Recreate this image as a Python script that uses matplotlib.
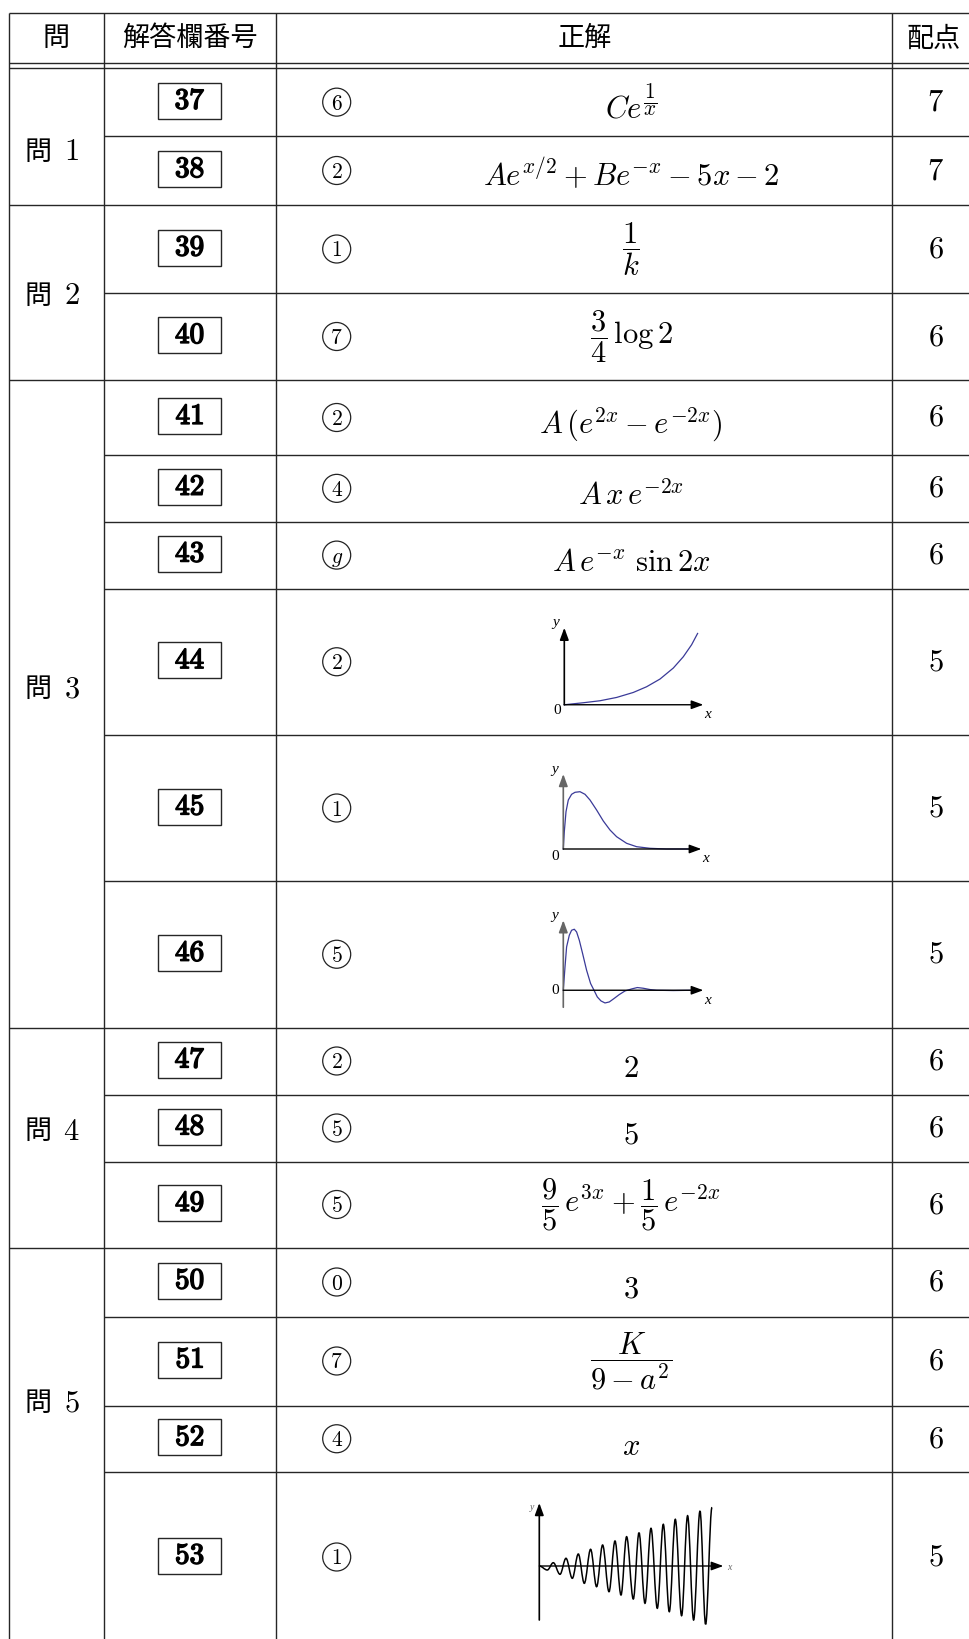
import matplotlib
matplotlib.use('Agg')
import matplotlib.pyplot as plt
import matplotlib.transforms as mtransforms
import matplotlib.patheffects as pe
from matplotlib.patches import Rectangle, Circle, PathPatch
from matplotlib.path import Path

plt.rcParams['mathtext.fontset'] = 'cm'
CJK = 'Noto Sans CJK JP'

# ---- table contents ----
header = ['問', '解答欄番号', '正解', '配点']
group_nos = [1, 2, 3, 4, 5]
group_sizes = [2, 2, 6, 3, 4]
answer_nos = list(range(37, 54))
choices = ['6', '2', '1', '7', '2', '4', 'g', '2', '1', '5',
           '2', '5', '5', '0', '7', '4', '1']
answers = [r'$Ce^{\dfrac{1}{x}}$',
           r'$Ae^{x/2}+Be^{-x}-5x-2$',
           r'$\dfrac{1}{k}$',
           r'$\dfrac{3}{4}\,\log 2$',
           r'$A\,(e^{2x}-e^{-2x})$',
           r'$A\,x\,e^{-2x}$',
           r'$A\,e^{-x}\ \sin 2x$',
           'graph44', 'graph45', 'graph46',
           r'$2$',
           r'$5$',
           r'$\dfrac{9}{5}\,e^{3x}+\dfrac{1}{5}\,e^{-2x}$',
           r'$3$',
           r'$\dfrac{K}{9-a^2}$',
           r'$x$',
           'graph53']
points = [7, 7, 6, 6, 6, 6, 6, 5, 5, 5, 6, 6, 6, 6, 6, 6, 5]

# ---- small graphs (y up, px units) ----
g44_t = [0, 19, 35.7, 52.3, 69, 82.3, 95.7, 109, 119, 127.3, 133.3]
g44_y = [0, 2, 4, 7.3, 12.3, 18, 25.7, 36.7, 48, 60, 71.3]

g45_t = [0, 1, 2.7, 5, 8.3, 11.7, 16.7, 21.7, 26.7, 33.3, 40, 46.7,
         53.3, 63.3, 73.3, 86.7, 103.3, 126.7]
g45_y = [0, 17.3, 37.3, 49, 54.7, 56.7, 57.3, 54.7, 49, 39, 28, 19,
         12.3, 5.7, 2.3, 0.7, 0, 0]

g46_t = [0, 1.7, 3.3, 6, 8.3, 11, 13.3, 16, 19.3, 23.3, 27.3, 30.7, 34,
         37.7, 41.7, 46, 50.7, 56, 61.7, 64, 68.3, 74, 80, 86.7, 93.3, 110, 130]
g46_y = [0, 23.3, 43.3, 55, 60, 61, 58.3, 50, 36.7, 20, 6.7, 0, -6.7,
         -10.7, -12.7, -11.7, -8.3, -4.3, -0.7, 0, 1.3, 2.7, 2, 0.7, 0, -0.3, 0]

# extrema of the growing oscillation
g53_t = [0, 8, 14, 20.7, 26.7, 33, 39, 45, 51.3, 57.3, 63.3, 69.7, 75.7,
         81.7, 87.3, 94, 99.7, 105.7, 111.7, 118, 124, 130, 136, 142.3,
         148.3, 154.3, 160.7, 166.3, 172.7]
g53_y = [0, -4, 3.3, -8.3, 7.7, -12.3, 12, -17.3, 16.7, -20.7, 21, -25.7,
         25, -29, 29.3, -33, 33.3, -37.3, 37.7, -42.3, 41.7, -45.7, 46.7,
         -49.7, 50.3, -54, 55, -58.3, 58.7]

# ---- layout (pixels) ----
W, H = 970, 1639
col_x = [8.7, 104.3, 276.3, 892.3]
top_y, head_y1, head_y2 = 12.5, 63.3, 68.3
row_edges = [68.3, 136, 205, 293, 380, 455, 521.7, 588.5, 735, 881,
             1027.5, 1094.5, 1161.5, 1247.5, 1316.5, 1405.5, 1472, 1642]
group_label_y = [152, 296, 689, 1131, 1403]
LC = '#262626'
LW = 1.0
MATH = 22

fig = plt.figure(figsize=(W / 100, H / 100), dpi=100)
ax = fig.add_axes([0, 0, 1, 1])
ax.set_xlim(0, W)
ax.set_ylim(H, 0)
ax.axis('off')

# table rules
right = W + 10
ax.hlines([top_y, head_y1, head_y2], col_x[0], right, color=LC, lw=LW)
ends = []
k = 0
for n in group_sizes:
    k += n
    ends.append(k)
for i in range(1, len(row_edges) - 1):
    x0 = col_x[0] if i in ends else col_x[1]
    ax.hlines(row_edges[i], x0, right, color=LC, lw=LW)
for x in col_x:
    ax.vlines(x, top_y, row_edges[-1], color=LC, lw=LW)

# header
head_cx = [56.5, 190.3, 584.3, 934]
for cx, s in zip(head_cx, header):
    ax.text(cx, (top_y + head_y1) / 2 + 1, s, family=CJK, fontsize=19.5,
            ha='center', va='center')

# group labels
for n, gy in zip(group_nos, group_label_y):
    ax.text(38.5, gy, '問', family=CJK, fontsize=19.5, ha='center', va='center')
    ax.text(71.5, gy, f'${n}$', fontsize=MATH, ha='center', va='center')


def mini_axes(ox, oy, xlen, ytop, ybot, ycol, lab0, small=False):
    tr = mtransforms.Affine2D().scale(1, -1).translate(ox, oy) + ax.transData
    head = '-|>,head_length=0.6,head_width=0.22'
    ax.annotate('', xy=(0, ytop), xytext=(0, -ybot), xycoords=tr, textcoords=tr,
                arrowprops=dict(arrowstyle=head, color=ycol, lw=1.2,
                                mutation_scale=12, shrinkA=0, shrinkB=0))
    ax.annotate('', xy=(xlen, 0), xytext=(0, 0), xycoords=tr, textcoords=tr,
                arrowprops=dict(arrowstyle=head, color='black', lw=1.0,
                                mutation_scale=12, shrinkA=0, shrinkB=0))
    if small:
        ax.text(-7, ytop - 5, 'y', transform=tr, family='Liberation Serif',
                style='italic', fontsize=7, color='#666', ha='center', va='center')
        ax.text(xlen + 6, -1, 'x', transform=tr, family='Liberation Serif',
                style='italic', fontsize=7, color='#666', ha='center', va='center')
    else:
        ax.text(-8.5, ytop + 5, 'y', transform=tr, family='Liberation Serif',
                style='italic', fontsize=11, ha='center', va='center')
        ax.text(xlen + 4, -10, 'x', transform=tr, family='Liberation Serif',
                style='italic', fontsize=11, ha='center', va='center')
    if lab0 is not None:
        ax.text(lab0[0], lab0[1], '0', transform=tr, family='Liberation Serif',
                fontsize=11, ha='center', va='center')
    return tr


CURVE = '#3a3a98'


def draw_graph(name, cy):
    if name == 'graph44':
        tr = mini_axes(564.3, cy + 43, 139, 77, 0, 'black', (-7, -6))
        ax.plot(g44_t, g44_y, color=CURVE, lw=0.9, transform=tr)
    elif name == 'graph45':
        tr = mini_axes(563.3, cy + 41, 138, 75, 0, '#666', (-8, -7))
        ax.plot(g45_t, g45_y, color=CURVE, lw=0.9, transform=tr)
    elif name == 'graph46':
        tr = mini_axes(563.3, cy + 36, 140, 70, 17, '#666', (-8, 0))
        ax.plot(g46_t, g46_y, color=CURVE, lw=0.9, transform=tr)
    else:
        tr = mini_axes(539.3, cy + 9, 184, 63, 54, 'black', None, small=True)
        verts = [(g53_t[0], g53_y[0])]
        codes = [Path.MOVETO]
        for i in range(len(g53_t) - 1):
            ta, ya, tb, yb = g53_t[i], g53_y[i], g53_t[i + 1], g53_y[i + 1]
            d = tb - ta
            verts += [(ta + 0.36 * d, ya), (tb - 0.36 * d, yb), (tb, yb)]
            codes += [Path.CURVE4] * 3
        ax.add_patch(PathPatch(Path(verts, codes), transform=tr, fill=False,
                               ec='black', lw=1.1))


bold = [pe.Stroke(linewidth=1.1, foreground='black'), pe.Normal()]

# body rows
for i, no in enumerate(answer_nos):
    y0, y1 = row_edges[i], row_edges[i + 1]
    cy = (y0 + y1) / 2
    # answer-box number
    ax.add_patch(Rectangle((158.5, cy - 19.5), 63, 36, fill=False, ec=LC, lw=1.0))
    ax.text(190, cy - 1.5, r'$\mathbf{%d}$' % no, fontsize=21,
            ha='center', va='center', path_effects=bold)
    # circled choice
    ax.add_patch(Circle((336.7, cy), 14, fill=False, ec='#222', lw=0.9))
    ch = choices[i]
    ax.text(336.7, cy + 7.5, '$%s$' % ch, fontsize=15.5, ha='center', va='baseline')
    # answer
    a = answers[i]
    if a.startswith('graph'):
        draw_graph(a, cy)
    elif 'frac' in a and not a.startswith('$Ce'):
        ax.text(631, cy, a, fontsize=MATH, ha='center', va='center')
    else:
        ax.text(631, cy + 16, a, fontsize=MATH, ha='center', va='baseline')
    # points
    ax.text(935.5, cy, '$%d$' % points[i], fontsize=MATH, ha='center', va='center')

fig.savefig('out.png', dpi=100)
